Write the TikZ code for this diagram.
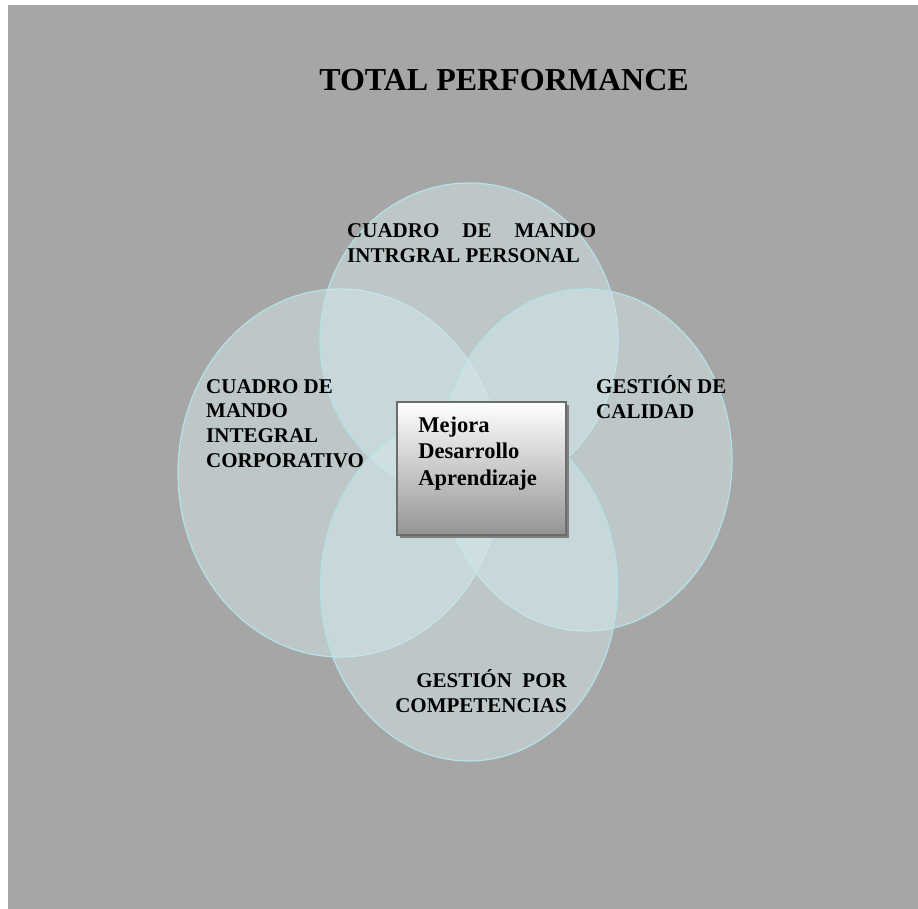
\documentclass[tikz,border=0pt]{standalone}
\usepackage{fontspec}
\setmainfont{Liberation Serif}
\usepackage{xcolor}
\usepackage{tikz}
\usetikzlibrary{positioning,shapes.geometric,shadows}

\definecolor{sheet}{RGB}{166,166,166}
\definecolor{vennfill}{RGB}{212,232,235}
\definecolor{vennline}{RGB}{180,226,232}
\definecolor{boxline}{RGB}{108,108,108}
\definecolor{boxbottom}{RGB}{148,148,148}

% fixed height of the first text line, so the labels sit on known baselines
\newcommand{\firstline}{\rule{0pt}{20pt}}

\tikzset{
  venn/.style={
    ellipse,
    draw=vennline,
    fill=vennfill,
    fill opacity=0.5,
    line width=1.2pt,
    inner sep=0pt
  }
}
\tikzset{
  core box/.style={
    rectangle,
    draw=boxline,
    line width=1.5pt,
    top color=white,
    bottom color=boxbottom,
    drop shadow={shadow xshift=3pt,shadow yshift=-3pt,fill=black!50,opacity=1}
  }
}
\tikzset{
  title text/.style={
    inner sep=0pt,
    font=\fontsize{32}{38}\selectfont\bfseries
  }
}
\tikzset{
  venn label/.style={
    inner sep=0pt,
    align=left,
    font=\fontsize{21}{24.7}\selectfont\bfseries
  }
}
\tikzset{
  core label/.style={
    venn label,
    font=\fontsize{22.5}{26.5}\selectfont\bfseries
  }
}

\begin{document}
\begin{tikzpicture}[x=1pt,y=-1pt]

    % ------------------------------------------------------------
    % Sheet
    % ------------------------------------------------------------

    \useasboundingbox (0,0) rectangle (918,909);
    \fill[sheet] (8,5) rectangle (918,909);

    \node[title text,anchor=base] (title) at (504,91) {TOTAL PERFORMANCE};

    % ------------------------------------------------------------
    % Circles
    % ------------------------------------------------------------

    \node[venn,minimum width=324pt,minimum height=368pt] (corporativo) at (340,473) {};
    \node[venn,minimum width=298pt,minimum height=314pt] (personal) at (469,340) {};
    \node[venn,minimum width=292pt,minimum height=342pt] (calidad) at (586,460) {};
    \node[venn,minimum width=297pt,minimum height=348pt] (competencias) at (469,587) {};

    % ------------------------------------------------------------
    % Center box
    % ------------------------------------------------------------

    \node[core box,minimum width=169pt,minimum height=133pt] (core) at (481.5,468.5) {};

    \node[core label,anchor=north west] (coretext)
      at ([xshift=22pt,yshift=-11pt]core.north west)
    {
      \firstline Mejora\\
      Desarrollo\\
      Aprendizaje
    };

    % ------------------------------------------------------------
    % Labels
    % ------------------------------------------------------------

    \node[venn label,anchor=north west,font=\fontsize{21}{25}\selectfont\bfseries]
      (personaltext) at (347,217)
    {
      \firstline\makebox[249pt][s]{CUADRO DE MANDO}\\
      INTRGRAL PERSONAL
    };

    \node[venn label,anchor=north west] (corporativotext) at (206,373)
    {
      \firstline CUADRO DE\\
      MANDO\\
      INTEGRAL\\
      CORPORATIVO
    };

    \node[venn label,anchor=north west,font=\fontsize{21}{25}\selectfont\bfseries]
      (calidadtext) at (596,373)
    {
      \firstline GESTIÓN DE\\
      CALIDAD
    };

    \node[venn label,anchor=north east,align=right,font=\fontsize{21}{25}\selectfont\bfseries]
      (competenciastext) at (567,667)
    {
      \firstline GESTIÓN~~POR\\
      COMPETENCIAS
    };

\end{tikzpicture}
\end{document}
